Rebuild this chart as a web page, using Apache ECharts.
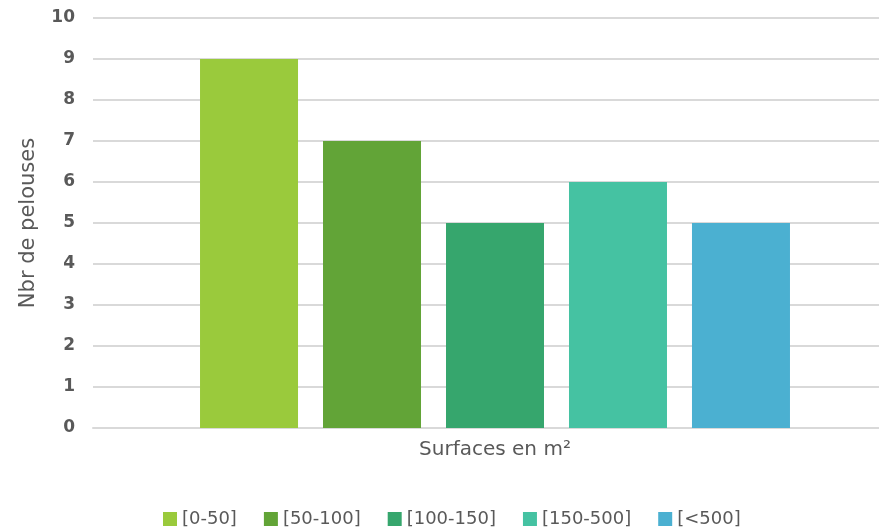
<!DOCTYPE html>
<html>
<head>
<meta charset="utf-8">
<script src="https://cdn.jsdelivr.net/npm/echarts@6/dist/echarts.min.js"></script>
<style>html,body{margin:0;padding:0;background:#fff;overflow:hidden;width:879px;height:530px}#c{width:897px;height:530px}</style>
</head>
<body>
<div id="c"></div>
<script>
const categories = ['Surfaces en m²'];
const seriesNames = ['[0-50]', '[50-100]', '[100-150]', '[150-500]', '[<500]'];
const seriesValues = [[9], [7], [5], [6], [5]];
const seriesColors = ['#9aca3c', '#62a437', '#36a66d', '#45c2a2', '#4bb0d1'];
const yAxisTitle = 'Nbr de pelouses';

const FONT = '"DejaVu Sans", sans-serif';
const TXT = '#595959';

const chart = echarts.init(document.getElementById('c'), null, {renderer: 'canvas'});
chart.setOption({
  animation: false,
  backgroundColor: '#ffffff',
  grid: {left: 93, right: 0, top: 18, bottom: 102, containLabel: false},
  legend: {
    top: 510,
    left: 163,
    padding: 0,
    itemWidth: 14,
    itemHeight: 14,
    itemGap: 27,
    icon: 'rect',
    textStyle: {color: TXT, fontFamily: FONT, fontSize: 18},
    data: seriesNames
  },
  xAxis: {
    type: 'category',
    data: categories,
    axisLine: {show: true, lineStyle: {color: '#d9d9d9', width: 2}},
    axisTick: {show: false},
    axisLabel: {color: TXT, fontFamily: FONT, fontSize: 20, margin: 12}
  },
  yAxis: {
    type: 'value',
    min: 0,
    max: 10,
    interval: 1,
    name: yAxisTitle,
    nameLocation: 'middle',
    nameGap: 54,
    nameTextStyle: {color: TXT, fontFamily: FONT, fontSize: 21},
    axisLine: {show: false},
    axisTick: {show: false},
    axisLabel: {color: TXT, fontFamily: FONT, fontSize: 17, fontWeight: 'bold', margin: 18},
    splitLine: {lineStyle: {color: '#d9d9d9', width: 2}}
  },
  series: seriesNames.map((n, i) => ({
    name: n,
    type: 'bar',
    data: seriesValues[i],
    barWidth: 98,
    barGap: '25.5%',
    itemStyle: {color: seriesColors[i]}
  }))
});
</script>
</body>
</html>
